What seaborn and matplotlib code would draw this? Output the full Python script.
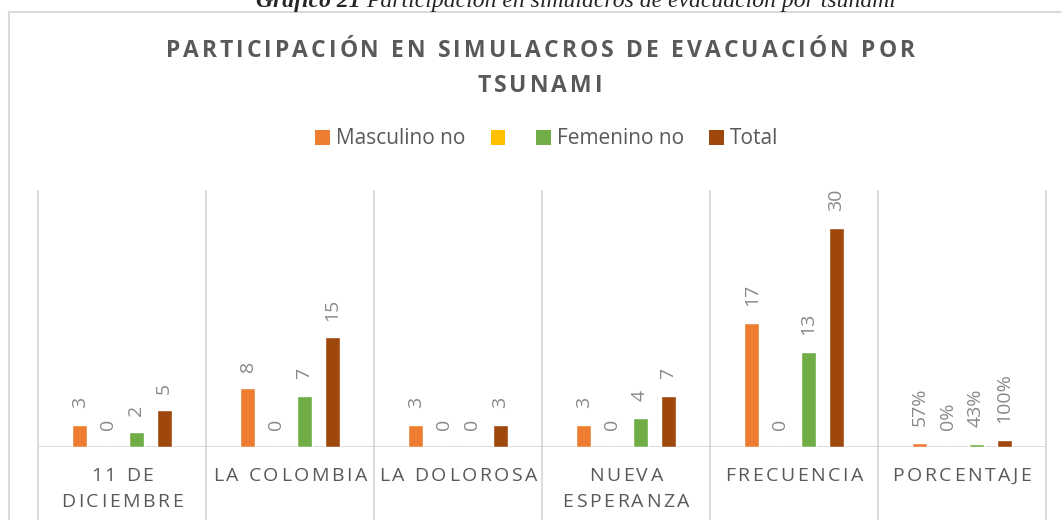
import pandas as pd
import numpy as np
import matplotlib.pyplot as plt
import seaborn as sns
from matplotlib.patches import Patch, Rectangle
from matplotlib.font_manager import FontProperties
from matplotlib.transforms import IdentityTransform, blended_transform_factory

# data
categories = ["11 DE\nDICIEMBRE", "LA COLOMBIA", "LA DOLOROSA", "NUEVA\nESPERANZA", "FRECUENCIA", "PORCENTAJE"]
series = ["Masculino no", "", "Femenino no", "Total"]
masculino = [3, 8, 3, 3, 17, 0.57]
serie_vacia = [0, 0, 0, 0, 0, 0.0]
femenino = [2, 7, 0, 4, 13, 0.43]
total = [5, 15, 3, 7, 30, 1.0]
colors = ["#ED7D31", "#FFC000", "#70AD47", "#9E480E"]

W, H = 1061, 520

df = pd.DataFrame({
    "categoria": categories * 4,
    "serie": sum([[s] * len(categories) for s in series], []),
    "valor": masculino + serie_vacia + femenino + total,
})

sns.set_style("white")
plt.rcParams['font.family'] = ['Open Sans', 'DejaVu Sans']

fig = plt.figure(figsize=(W / 100, H / 100), dpi=100)
ax = fig.add_axes([38 / W, (H - 447) / H, (1046 - 38) / W, (447 - 191) / H])

sns.barplot(data=df, x="categoria", y="valor", hue="serie", hue_order=series,
            order=categories, palette=colors, width=0.67, gap=0.47,
            saturation=1, ax=ax, legend=False)

ax.set_ylim(0, 35)
ax.set_xlim(-0.5, len(categories) - 0.5)
ax.set_xlabel("")
ax.set_ylabel("")
ax.set_yticks([])
ax.set_xticks([])
for sp in ax.spines.values():
    sp.set_visible(False)

grid_c = "#D9D9D9"
ax.axhline(0, color=grid_c, lw=1.3, zorder=0)
trans = blended_transform_factory(ax.transData, ax.transAxes)
for b in np.arange(-0.5, len(categories), 1.0):
    ax.plot([b, b], [-0.29, 1.0], transform=trans, color=grid_c, lw=1.3,
            clip_on=False, zorder=0)

# data labels
for i, cont in enumerate(ax.containers):
    vals = [masculino, serie_vacia, femenino, total][i]
    labs = [f"{v:g}" for v in vals[:-1]] + [f"{vals[-1]:.0%}"]
    ax.bar_label(cont, labels=labs, rotation=90, padding=12, fontsize=14,
                 color="#898989")

# text with letter spacing (drawn in pixel coordinates)
renderer = fig.canvas.get_renderer()


def char_widths(s, fp):
    base = renderer.get_text_width_height_descent("xx", fp, ismath=False)[0]
    return [renderer.get_text_width_height_descent("x" + c + "x", fp, ismath=False)[0] - base
            for c in s]


def tracked(s, cx, y_base, fp, tracking, color):
    ws = char_widths(s, fp)
    tot = sum(ws) + tracking * (len(s) - 1)
    x = cx - tot / 2
    for c, w in zip(s, ws):
        fig.text(x, H - y_base, c, transform=IdentityTransform(), fontproperties=fp,
                 color=color, ha="left", va="baseline")
        x += w + tracking


title_fp = FontProperties(family="Open Sans", weight="bold", size=16.5)
line1 = "PARTICIPACIÓN EN SIMULACROS DE EVACUACIÓN POR"
ws1 = char_widths(line1, title_fp)
title_track = (749 - sum(ws1)) / (len(line1) - 1)
tracked(line1, 540, 57, title_fp, title_track, "#595959")
tracked("TSUNAMI", 540, 92, title_fp, title_track, "#595959")

tick_fp = FontProperties(family="Open Sans", size=14)
ws_t = char_widths("LA COLOMBIA", tick_fp)
tick_track = (154 - sum(ws_t)) / (len("LA COLOMBIA") - 1)
for k, cat in enumerate(categories):
    cx = 38 + 168 * (k + 0.5)
    for j, line in enumerate(cat.split("\n")):
        tracked(line, cx, 481 + 26 * j, tick_fp, tick_track, "#595959")

# legend
handles = [Patch(facecolor=c, edgecolor="none") for c in colors]
leg = fig.legend(handles, series, loc="center", bbox_to_anchor=(547 / W, (H - 139) / H),
                 ncol=4, frameon=False, fontsize=15, handlelength=0.7, handleheight=0.7,
                 handletextpad=0.3, columnspacing=1.2, labelcolor="#595959")

# chart frame and caption above it
fig.patches.append(Rectangle((9 / W, -0.1), 1.2, (H - 12) / H + 0.1, transform=fig.transFigure,
                             fill=False, edgecolor=grid_c, lw=1.5))
cap_bold = FontProperties(family="Liberation Serif", weight="bold", style="italic", size=17)
cap_it = FontProperties(family="Liberation Serif", style="italic", size=17)
cap1 = "Grafico 21 "
cap2 = "Participación en simulacros de evacuación por tsunami"
w1 = renderer.get_text_width_height_descent(cap1 + "x", cap_bold, ismath=False)[0] - \
    renderer.get_text_width_height_descent("x", cap_bold, ismath=False)[0]
w2 = renderer.get_text_width_height_descent(cap2, cap_it, ismath=False)[0]
x0 = 576 - (w1 + w2) / 2
fig.text(x0, H - 7, cap1, transform=IdentityTransform(), fontproperties=cap_bold,
         ha="left", va="baseline")
fig.text(x0 + w1, H - 7, cap2, transform=IdentityTransform(), fontproperties=cap_it,
         ha="left", va="baseline")

fig.savefig("out.png", dpi=100)
